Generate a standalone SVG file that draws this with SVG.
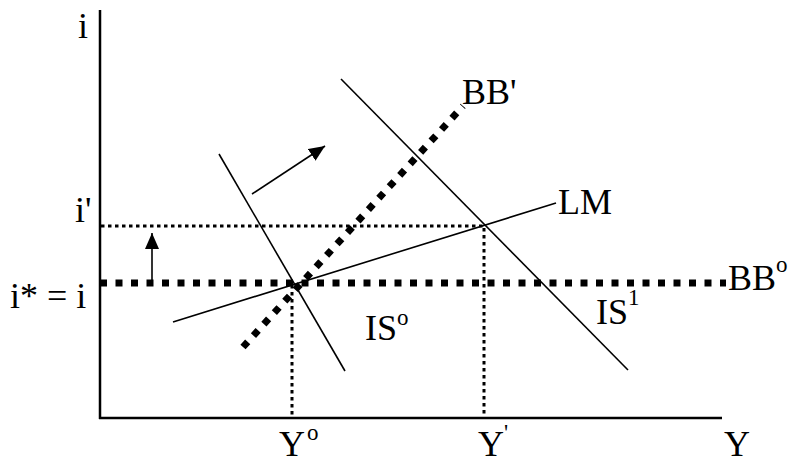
<svg xmlns="http://www.w3.org/2000/svg" width="790" height="465" viewBox="0 0 790 465">
<style>
.lbl{font-family:"Liberation Serif","Times New Roman",serif;font-size:36px;fill:#000}
.sup{font-family:"Liberation Serif","Times New Roman",serif;font-size:23px;fill:#000}
.thin{stroke:#000;stroke-width:1.6;fill:none}
.axis{stroke:#000;stroke-width:2.5;fill:none}
.dot{stroke:#000;stroke-width:3;stroke-dasharray:3.5 3.5;fill:none}
.thick{stroke:#000;stroke-width:7;stroke-dasharray:7 8.5;fill:none}
</style>
<defs>
<marker id="ah" markerUnits="userSpaceOnUse" markerWidth="16" markerHeight="14" refX="16" refY="7" orient="auto">
<path d="M0,0 L16,7 L0,14 z" fill="#000"/>
</marker>
</defs>
<rect width="790" height="465" fill="#fff"/>
<g id="axes">
<line class="axis" x1="100" y1="10" x2="100" y2="419"/>
<line class="axis" x1="99" y1="418" x2="722" y2="418"/>
</g>
<g id="guides">
<line class="dot" x1="101" y1="226" x2="484" y2="226"/>
<line class="dot" x1="292" y1="285" x2="292" y2="418"/>
<line class="dot" x1="484" y1="228" x2="484" y2="418"/>
</g>
<g id="BB0">
<line class="thick" x1="100" y1="283" x2="726" y2="283"/>
</g>
<g id="BB1">
<line class="thick" x1="243" y1="347" x2="463" y2="106"/>
</g>
<g id="LM">
<line class="thin" x1="173" y1="322" x2="556" y2="203"/>
</g>
<g id="IS0">
<line class="thin" x1="219" y1="154" x2="345" y2="371"/>
</g>
<g id="IS1">
<line class="thin" x1="341" y1="79" x2="628" y2="370"/>
</g>
<g id="connectors">
<line class="thin" x1="152" y1="281" x2="152" y2="233" marker-end="url(#ah)"/>
<line class="thin" x1="252" y1="194" x2="325" y2="146" marker-end="url(#ah)"/>
</g>
<g id="labels">
<text class="lbl" x="78" y="38">i</text>
<text class="lbl" x="75" y="222">i'</text>
<text class="lbl" x="10" y="308">i* = i</text>
<text class="lbl" x="462" y="104">BB'</text>
<text class="lbl" x="558" y="214">LM</text>
<text class="lbl" x="728" y="290">BB</text><text class="sup" x="776" y="272">o</text>
<text class="lbl" x="596" y="324">IS</text><text class="sup" x="628" y="305">1</text>
<text class="lbl" x="365" y="340">IS</text><text class="sup" x="397" y="325">o</text>
<text class="lbl" x="279" y="456">Y</text><text class="sup" x="307" y="440">o</text>
<text class="lbl" x="478" y="456">Y</text><text class="sup" x="504" y="440">'</text>
<text class="lbl" x="724" y="456">Y</text>
</g>
</svg>
